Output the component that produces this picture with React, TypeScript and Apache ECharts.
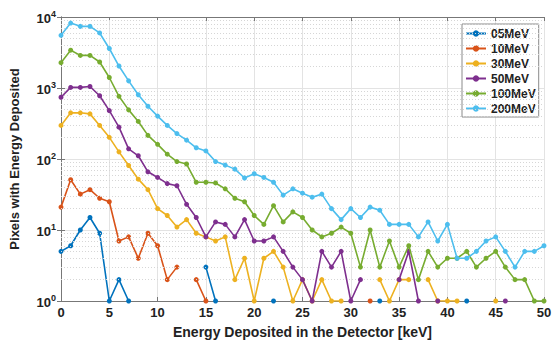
import React, { useEffect, useRef } from "react";
import * as echarts from "echarts";

const xValues: number[] = Array.from({ length: 51 }, (_, i) => i);
const seriesNames = ["05MeV", "10MeV", "30MeV", "50MeV", "100MeV", "200MeV"];
const colors = ["#0072BD", "#D95319", "#EDB120", "#7E2F8E", "#77AC30", "#4DBEEE"];
const N = null;

const mev05: (number | null)[] = [5, 6, 10, 15, 9, 1, 2, 1, N, N, N, N, N, N, N, 3, 1, N, N, N, N, N, 1, N, N, N, N, N, N, N, N, N, N, 1, N, N, N, N, N, N, N, N, 1, N, N, N, N, N, N, N, N];
const mev10: (number | null)[] = [21, 51, 32, 37, 28, 25, 7, 8, 4, 9, 6, 2, 3, N, 2, 1, N, N, N, N, N, N, N, N, N, N, N, N, N, N, N, N, 1, N, N, N, N, N, N, N, N, N, N, N, N, N, N, N, N, N, N];
const mev30: (number | null)[] = [297, 447, 447, 432, 297, 202, 126, 81, 52, 37, 20, 16, 11, 14, 9, 8, 7, 8, 2, 4, 1, 4, 5, 3, 1, 2, 1, 2, 1, 1, N, N, N, 2, 1, 2, 2, N, 2, 1, 1, 1, N, N, N, 1, N, N, N, N, N];
const mev50: (number | null)[] = [740, 1019, 1019, 1050, 777, 480, 281, 139, 111, 66, 55, 45, 42, 23, 15, 8, 13, 12, 8, 14, 7, 7, 8, 5, 3, 2, 1, 5, 3, 5, 1, 2, N, N, N, 2, 5, 1, N, 1, N, N, N, N, N, N, 1, N, N, N, N];
const mev100: (number | null)[] = [2275, 3410, 2877, 2877, 2323, 1406, 764, 492, 338, 215, 161, 117, 92, 85, 47, 47, 46, 38, 28, 25, 16, 12, 22, 13, 18, 15, 10, 8, 9, 11, 9, 3, 10, 3, 7, 3, 6, 2, 5, 3, 4, 4, 5, 3, 4, 5, 3, 2, 2, 1, 1];
const mev200: (number | null)[] = [5520, 8220, 7380, 7380, 5960, 3600, 2040, 1260, 804, 553, 402, 297, 228, 184, 144, 130, 92, 82, 72, 54, 62, 55, 47, 31, 38, 33, 29, 32, 20, 14, 20, 15, 21, 19, 12, 12, 12, 8, 13, 7, 12, 4, 4, 5, 7, 8, 5, 3, 5, 5, 6];

const allSeries = [mev05, mev10, mev30, mev50, mev100, mev200];
const minorGridValues: number[] = [];
for (let k = 0; k < 4; k++) for (let m = 2; m <= 9; m++) minorGridValues.push(m * Math.pow(10, k));

const FONT = "Liberation Sans, Arial, Helvetica, sans-serif";

export default function App() {
  const ref = useRef<HTMLDivElement>(null);
  useEffect(() => {
    if (!ref.current) return;
    const chart = echarts.init(ref.current, null, { renderer: "svg" });
    const lineSeries = allSeries.map((arr, i) => ({
      name: seriesNames[i],
      type: "line",
      data: xValues.map((x, j) => [x, arr[j] == null ? "-" : arr[j]]),
      color: colors[i],
      symbol: "circle",
      symbolSize: 5,
      showSymbol: true,
      connectNulls: false,
      lineStyle: { width: 1.6 },
      z: 3 + i,
    }));
    const option: any = {
      animation: false,
      textStyle: { fontFamily: FONT },
      grid: { left: 57, right: 12, top: 17, bottom: 40, containLabel: false },
      legend: {
        orient: "vertical",
        left: 462,
        top: 24,
        data: seriesNames,
        backgroundColor: "#fff",
        borderColor: "#8a8a8a",
        borderWidth: 1,
        borderRadius: 0,
        padding: [3, 3, 2, 3],
        itemGap: 2,
        itemWidth: 20,
        itemHeight: 8,
        textStyle: { fontFamily: FONT, fontWeight: "bold", fontSize: 12, color: "#222", lineHeight: 13 },
      },
      xAxis: [
        {
          type: "value",
          min: 0,
          max: 50,
          interval: 5,
          name: "Energy Deposited in the Detector [keV]",
          nameLocation: "middle",
          nameGap: 24,
          nameTextStyle: { fontFamily: FONT, fontWeight: "bold", fontSize: 14, color: "#222" },
          axisLine: { show: true, lineStyle: { color: "#777", width: 1 } },
          axisTick: { show: true, inside: true, length: 4, lineStyle: { color: "#777" } },
          axisLabel: { fontFamily: FONT, fontWeight: "bold", fontSize: 13, color: "#222", margin: 5 },
          splitLine: { show: true, lineStyle: { color: "#e3e3e3", width: 1 } },
        },
        {
          type: "value",
          position: "top",
          min: 0,
          max: 50,
          interval: 5,
          axisLine: { show: true, lineStyle: { color: "#777", width: 1 } },
          axisTick: { show: true, inside: true, length: 4, lineStyle: { color: "#777" } },
          axisLabel: { show: false },
          splitLine: { show: false },
        },
      ],
      yAxis: [
        {
          type: "log",
          logBase: 10,
          min: 1,
          max: 10000,
          name: "Pixels with Energy Deposited",
          nameLocation: "middle",
          nameGap: 40,
          nameRotate: 90,
          nameTextStyle: { fontFamily: FONT, fontWeight: "bold", fontSize: 13, color: "#222" },
          axisLine: { show: true, lineStyle: { color: "#777", width: 1 } },
          axisTick: { show: true, inside: true, length: 4, lineStyle: { color: "#777" } },
          axisLabel: {
            margin: 5,
            formatter: (v: number) => `{b|10}{s|${Math.round(Math.log10(v))}}`,
            rich: {
              b: { fontFamily: FONT, fontWeight: "bold", fontSize: 13, color: "#222", verticalAlign: "bottom" },
              s: { fontFamily: FONT, fontWeight: "bold", fontSize: 9, color: "#222", verticalAlign: "bottom", padding: [0, 0, 7, 0] },
            },
          },
          splitLine: { show: true, lineStyle: { color: "#e3e3e3", width: 1 } },
        },
        {
          type: "log",
          logBase: 10,
          min: 1,
          max: 10000,
          position: "right",
          axisLine: { show: true, lineStyle: { color: "#777", width: 1 } },
          axisTick: { show: true, inside: true, length: 4, lineStyle: { color: "#777" } },
          axisLabel: { show: false },
          splitLine: { show: false },
        },
      ],
      series: [
        {
          type: "line",
          name: "minorGrid",
          data: [],
          z: 1,
          silent: true,
          markLine: {
            silent: true,
            symbol: "none",
            label: { show: false },
            lineStyle: { color: "#d6d6d6", type: [1, 2], width: 1 },
            data: minorGridValues.map((v) => ({ yAxis: v })),
          },
        },
        ...lineSeries,
      ],
    };
    chart.setOption(option);
    return () => chart.dispose();
  }, []);
  return <div ref={ref} style={{ position: "absolute", left: 0, top: 0, width: 556, height: 344 }} />;
}
